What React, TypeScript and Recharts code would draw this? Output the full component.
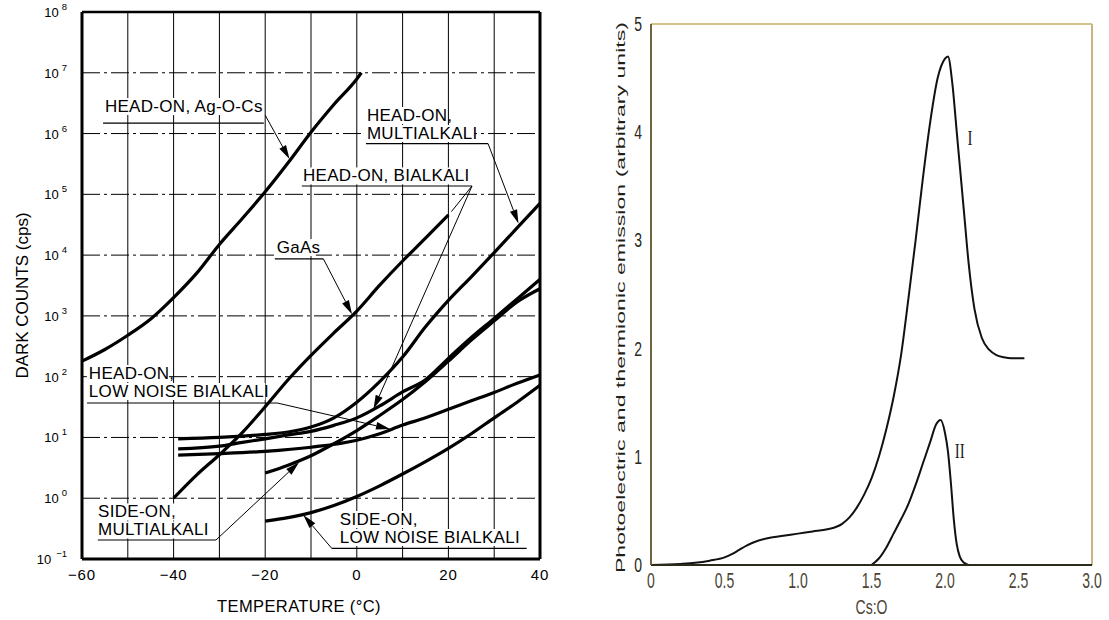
import React from "react";
import {
  LineChart,
  Line,
  XAxis,
  YAxis,
  CartesianGrid,
  ReferenceLine,
  ReferenceDot,
  Label,
} from "recharts";

// ---------- left panel: dark counts vs temperature ----------
const tempTicks = [-60, -50, -40, -30, -20, -10, 0, 10, 20, 30, 40];
const countTicks = [0.1, 1, 10, 100, 1e3, 1e4, 1e5, 1e6, 1e7, 1e8];

const agTemp = [-60, -55, -50, -45, -40, -35, -30, -25, -20, -15, -10, -5, 0, 1];
const agCounts = [180, 280, 480, 890, 2000, 5000, 15000, 40000, 1.1e5, 3.3e5, 1.05e6, 3e6, 7.9e6, 1e7];

const gaasTemp = [-40, -35, -30, -25, -20, -15, -10, -5, 0, 5, 10, 15, 20];
const gaasCounts = [1, 2.4, 5.2, 12, 32, 89, 224, 525, 1200, 3200, 8000, 19000, 46000];

const headTemp = [-39, -30, -25, -20, -15, -10, -5, 0, 5, 10, 15, 20, 25, 30, 35, 40];
const headMultiCounts = [9.5, 10, 10.5, 11.2, 12.3, 14.8, 21, 38, 83, 210, 660, 1800, 4400, 11000, 28000, 71000];
const headBiCounts = [6.5, 7.2, 8.3, 9.5, 11, 12.6, 15.8, 21, 33, 56, 89, 200, 440, 910, 1900, 4000];

const lowNoiseTemp = [-39, -30, -20, -10, 0, 5, 10, 15, 20, 25, 30, 35, 40];
const headLowNoiseCounts = [5.1, 5.4, 5.9, 6.9, 9, 11.5, 16, 21, 29, 40, 55, 78, 107];

const sideTemp = [-20, -15, -10, -5, 0, 5, 10, 15, 20, 25, 30, 35, 40];
const sideMultiCounts = [2.6, 3.5, 5, 7.9, 13, 23, 42, 83, 180, 400, 830, 1700, 2800];
const sideLowNoiseCounts = [0.42, 0.48, 0.58, 0.76, 1.07, 1.6, 2.5, 4, 6.6, 11.5, 21, 38, 72];

// label text: first baseline at (t, v)
const noteLines = [
  ["HEAD-ON, Ag-O-Cs"],
  ["HEAD-ON,", "MULTIALKALI"],
  ["HEAD-ON, BIALKALI"],
  ["GaAs"],
  ["HEAD-ON,", "LOW NOISE BIALKALI"],
  ["SIDE-ON,", "MULTIALKALI"],
  ["SIDE-ON,", "LOW NOISE BIALKALI"],
];
const noteTemp = [-55, 2.2, -11.75, -17.5, -58.5, -56.5, -3.7];
const noteCounts = [2.26e6, 1.61e6, 1.63e5, 1.08e4, 91.5, 0.482, 0.3625];

// underlines: [t from, t to, v]
const underlines = [
  [-55.4, -20.3, 1.49e6],
  [2.0, 28.65, 6.85e5],
  [-12.0, 25.15, 1.37e5],
  [-17.9, -7.3, 8690],
  [-58.9, -17.4, 36.9],
  [-56.55, -30.74, 0.2055],
  [-5.48, 37.1, 0.15],
];

// leader lines: [t1, v1, t2, v2, arrow]
const leaders: [number, number, number, number, boolean][] = [
  [-20.0, 2.0e6, -14.7, 3.8e5, true],
  [28.65, 6.85e5, 35.3, 3.3e4, true],
  [25.15, 1.37e5, 3.65, 29.4, true],
  [25.15, 1.37e5, 20.66, 5.2e4, false],
  [-7.3, 8690, -1.05, 1069, true],
  [-17.4, 36.9, 7.25, 13.8, true],
  [-30.74, 0.2055, -12.6, 3.9, true],
  [-5.48, 0.15, -11.68, 0.53, true],
];

// ---------- right panel: emission vs Cs:O ----------
const ratioTicks = [0, 0.5, 1, 1.5, 2, 2.5, 3];
const emissionTicks = [0, 1, 2, 3, 4, 5];

const curveIRatio = [0, 0.2, 0.3, 0.4, 0.5, 0.55, 0.6, 0.65, 0.7, 0.8, 0.9, 1.0, 1.1, 1.2, 1.3, 1.35, 1.4, 1.45, 1.5, 1.55, 1.6, 1.65, 1.7, 1.75, 1.8, 1.85, 1.9, 1.95, 2.0, 2.02, 2.05, 2.08, 2.1, 2.13, 2.16, 2.2, 2.25, 2.3, 2.35, 2.4, 2.45, 2.5, 2.54];
const curveIEmission = [0, 0.01, 0.02, 0.04, 0.07, 0.1, 0.14, 0.18, 0.21, 0.25, 0.27, 0.29, 0.31, 0.33, 0.38, 0.44, 0.53, 0.65, 0.8, 1.0, 1.25, 1.55, 1.93, 2.45, 3.0, 3.58, 4.1, 4.5, 4.68, 4.7, 4.45, 4.0, 3.7, 3.25, 2.8, 2.37, 2.1, 1.99, 1.94, 1.92, 1.91, 1.91, 1.91];

const curveIIRatio = [1.5, 1.55, 1.6, 1.65, 1.7, 1.75, 1.8, 1.85, 1.9, 1.94, 1.97, 2.0, 2.02, 2.04, 2.06, 2.08, 2.1, 2.13, 2.16];
const curveIIEmission = [0, 0.06, 0.16, 0.29, 0.42, 0.56, 0.74, 0.94, 1.14, 1.3, 1.34, 1.22, 1.05, 0.76, 0.42, 0.19, 0.08, 0.02, 0];

const SANS = "'Liberation Sans', Arial, Helvetica, sans-serif";
const SERIF = "'Liberation Serif', 'Times New Roman', serif";

const zip = (xs: number[], ys: number[], kx: string, ky: string) =>
  xs.map((x, i) => ({ [kx]: x, [ky]: ys[i] }));

const leftSeries = [
  zip(agTemp, agCounts, "t", "v"),
  zip(gaasTemp, gaasCounts, "t", "v"),
  zip(headTemp, headMultiCounts, "t", "v"),
  zip(headTemp, headBiCounts, "t", "v"),
  zip(lowNoiseTemp, headLowNoiseCounts, "t", "v"),
  zip(sideTemp, sideMultiCounts, "t", "v"),
  zip(sideTemp, sideLowNoiseCounts, "t", "v"),
];

const TempTick = (p: any) => {
  const t = p.payload.value;
  if (t % 20 !== 0) return <g />;
  return (
    <text x={p.x} y={p.y + 21} textAnchor="middle" fontSize={15} letterSpacing={0.8} fontFamily={SANS} fill="#000">
      {t < 0 ? `−${-t}` : t}
    </text>
  );
};

const PowTick = (p: any) => {
  const e = Math.round(Math.log10(p.payload.value));
  return (
    <text x={p.x - 15} y={p.y + 5} textAnchor="end" fontSize={13} fontFamily={SANS} fill="#000">
      10
      <tspan dx={e < 0 ? 5 : 3} dy={-7} fontSize={9.5}>
        {e < 0 ? `−${-e}` : e}
      </tspan>
    </text>
  );
};

const noteShape = (lines: string[]) => (p: any) => (
  <g>
    {lines.map((s, i) => (
      <rect key={"r" + i} x={p.cx - 2} y={p.cy + i * 18 - 14} width={s.length * 9.8 + 2} height={17} fill="#fff" />
    ))}
    {lines.map((s, i) => (
      <text key={i} x={p.cx} y={p.cy + i * 18} fontSize={17} letterSpacing={0.3} fontFamily={SANS} fill="#000">
        {s}
      </text>
    ))}
  </g>
);

const leaderShape = (arrow: boolean) => (p: any) => {
  const { x1, y1, x2, y2 } = p;
  const len = Math.hypot(x2 - x1, y2 - y1) || 1;
  const dx = (x2 - x1) / len;
  const dy = (y2 - y1) / len;
  const bx = x2 - dx * 14;
  const by = y2 - dy * 14;
  return (
    <g>
      <line x1={x1} y1={y1} x2={arrow ? bx : x2} y2={arrow ? by : y2} stroke="#000" strokeWidth={1} />
      {arrow && (
        <polygon
          points={`${x2},${y2} ${bx - dy * 3.8},${by + dx * 3.8} ${bx + dy * 3.8},${by - dx * 3.8}`}
          fill="#000"
        />
      )}
    </g>
  );
};

function DarkCountChart() {
  return (
    <LineChart width={560} height={620} margin={{ top: 12, right: 20, bottom: 6, left: 22 }}>
      <CartesianGrid horizontal={false} stroke="#000" strokeWidth={1} />
      <CartesianGrid vertical={false} stroke="#000" strokeWidth={1} strokeDasharray="18 4 3 4" />
      <XAxis
        type="number"
        dataKey="t"
        domain={[-60, 40]}
        ticks={tempTicks}
        interval={0}
        tick={(p: any) => <TempTick {...p} />}
        tickLine={false}
        axisLine={false}
        tickSize={0}
        tickMargin={0}
        height={55}
      >
        <Label
          content={(p: any) => {
            const vb = p.viewBox || { x: 82, y: 559, width: 458 };
            return (
              <text x={vb.x + vb.width / 2 - 12} y={vb.y + 53} textAnchor="middle" fontSize={16.5} letterSpacing={0.4} fontFamily={SANS} fill="#000">
                TEMPERATURE (°C)
              </text>
            );
          }}
        />
      </XAxis>
      <YAxis
        type="number"
        dataKey="v"
        scale="log"
        domain={[0.1, 1e8]}
        ticks={countTicks}
        interval={0}
        allowDataOverflow
        tick={(p: any) => <PowTick {...p} />}
        tickLine={false}
        axisLine={false}
        tickSize={0}
        tickMargin={0}
        width={60}
      >
        <Label
          content={(p: any) => {
            const vb = p.viewBox || { x: 22, y: 12, height: 547 };
            const cx = vb.x;
            const cy = vb.y + vb.height / 2 + 10;
            return (
              <text
                x={cx}
                y={cy}
                transform={`rotate(-90, ${cx}, ${cy})`}
                textAnchor="middle"
                dominantBaseline="central"
                fontSize={17}
                fontFamily={SANS}
                fill="#000"
              >
                DARK COUNTS (cps)
              </text>
            );
          }}
        />
      </YAxis>

      {leftSeries.map((d, i) => (
        <Line
          key={i}
          data={d}
          dataKey="v"
          type="monotone"
          stroke="#000"
          strokeWidth={3.2}
          dot={false}
          isAnimationActive={false}
        />
      ))}

      <ReferenceLine x={-60} stroke="#000" strokeWidth={3} />
      <ReferenceLine x={40} stroke="#000" strokeWidth={3} />
      <ReferenceLine y={0.1} stroke="#000" strokeWidth={3} />
      <ReferenceLine y={1e8} stroke="#000" strokeWidth={2.5} />

      {underlines.map((u, i) => (
        <ReferenceLine
          key={"u" + i}
          segment={[
            { x: u[0], y: u[2] },
            { x: u[1], y: u[2] },
          ]}
          stroke="#000"
          strokeWidth={1.2}
        />
      ))}
      {leaders.map((l, i) => (
        <ReferenceLine
          key={"l" + i}
          segment={[
            { x: l[0], y: l[1] },
            { x: l[2], y: l[3] },
          ]}
          shape={leaderShape(l[4])}
        />
      ))}
      {noteLines.map((lines, i) => (
        <ReferenceDot key={"n" + i} x={noteTemp[i]} y={noteCounts[i]} r={0} shape={noteShape(lines)} />
      ))}
    </LineChart>
  );
}

const RatioTick = (p: any) => {
  const r = p.payload.value;
  return (
    <g transform={`translate(${p.x},${p.y}) scale(1,1.6)`}>
      <text x={0} y={14.5} textAnchor="middle" fontSize={14} fontFamily={SANS} fill="#4a4434">
        {r === 0 ? "0" : r.toFixed(1)}
      </text>
    </g>
  );
};

const EmissionTick = (p: any) => (
  <g transform={`translate(${p.x - 9},${p.y}) scale(1,1.4)`}>
    <text x={0} y={5} textAnchor="end" fontSize={14} fontFamily={SANS} fill="#2a2720">
      {p.payload.value}
    </text>
  </g>
);

function EmissionChart() {
  const dataI = zip(curveIRatio, curveIEmission, "r", "e");
  const dataII = zip(curveIIRatio, curveIIEmission, "r", "e");
  return (
    <LineChart width={529} height={620} margin={{ top: 24, right: 17, bottom: 10, left: 21 }}>
      <XAxis
        type="number"
        dataKey="r"
        domain={[0, 3]}
        ticks={ratioTicks}
        interval={0}
        tick={(p: any) => <RatioTick {...p} />}
        tickLine={false}
        tickSize={0}
        tickMargin={0}
        axisLine={{ stroke: "#2d2a1a", strokeWidth: 2 }}
        height={45}
      >
        <Label
          content={(p: any) => {
            const vb = p.viewBox || { x: 71, y: 541, width: 441 };
            const cx = vb.x + vb.width / 2;
            return (
              <g transform={`translate(${cx},${vb.y + 49}) scale(1,1.5)`}>
                <text x={0} y={0} textAnchor="middle" fontSize={14} fontFamily={SANS} fill="#4a4434">
                  Cs:O
                </text>
              </g>
            );
          }}
        />
      </XAxis>
      <YAxis
        type="number"
        dataKey="e"
        domain={[0, 5]}
        ticks={emissionTicks}
        interval={0}
        tick={(p: any) => <EmissionTick {...p} />}
        tickLine={false}
        tickSize={0}
        tickMargin={0}
        axisLine={{ stroke: "#6e6440", strokeWidth: 2 }}
        width={50}
      >
        <Label
          content={(p: any) => {
            const vb = p.viewBox || { x: 21, y: 24, height: 541 };
            const cx = vb.x + 20;
            const cy = vb.y + vb.height / 2 + 3;
            return (
              <g transform={`translate(${cx},${cy}) rotate(-90) scale(1.85,1)`}>
                <text x={0} y={0} textAnchor="middle" dominantBaseline="central" fontSize={12.5} fontFamily={SANS} fill="#1f1f1a">
                  Photoelectric and thermionic emission (arbitrary units)
                </text>
              </g>
            );
          }}
        />
      </YAxis>

      <ReferenceLine y={5} stroke="#d2c28c" strokeWidth={2} />
      <ReferenceLine x={3} stroke="#c8b47e" strokeWidth={2} />

      <Line data={dataI} dataKey="e" type="monotone" stroke="#111" strokeWidth={2} dot={false} isAnimationActive={false} />
      <Line data={dataII} dataKey="e" type="monotone" stroke="#111" strokeWidth={2} dot={false} isAnimationActive={false} />

      <ReferenceDot
        x={2.17}
        y={3.95}
        r={0}
        shape={(p: any) => (
          <g transform={`translate(${p.cx},${p.cy}) scale(1,1.4)`}>
            <text x={0} y={5} textAnchor="middle" fontSize={15} fontFamily={SERIF} fill="#1a1a1a">I</text>
          </g>
        )}
      />
      <ReferenceDot
        x={2.1}
        y={1.05}
        r={0}
        shape={(p: any) => (
          <g transform={`translate(${p.cx},${p.cy}) scale(1,1.4)`}>
            <text x={0} y={5} textAnchor="middle" fontSize={15} fontFamily={SERIF} fill="#1a1a1a">II</text>
          </g>
        )}
      />
    </LineChart>
  );
}

export default function App() {
  return (
    <div style={{ position: "absolute", left: 0, top: 0, width: 1109, height: 620, background: "#fff", overflow: "hidden" }}>
      <div style={{ position: "absolute", left: 0, top: 0 }}>
        <DarkCountChart />
      </div>
      <div style={{ position: "absolute", left: 580, top: 0 }}>
        <EmissionChart />
      </div>
    </div>
  );
}
